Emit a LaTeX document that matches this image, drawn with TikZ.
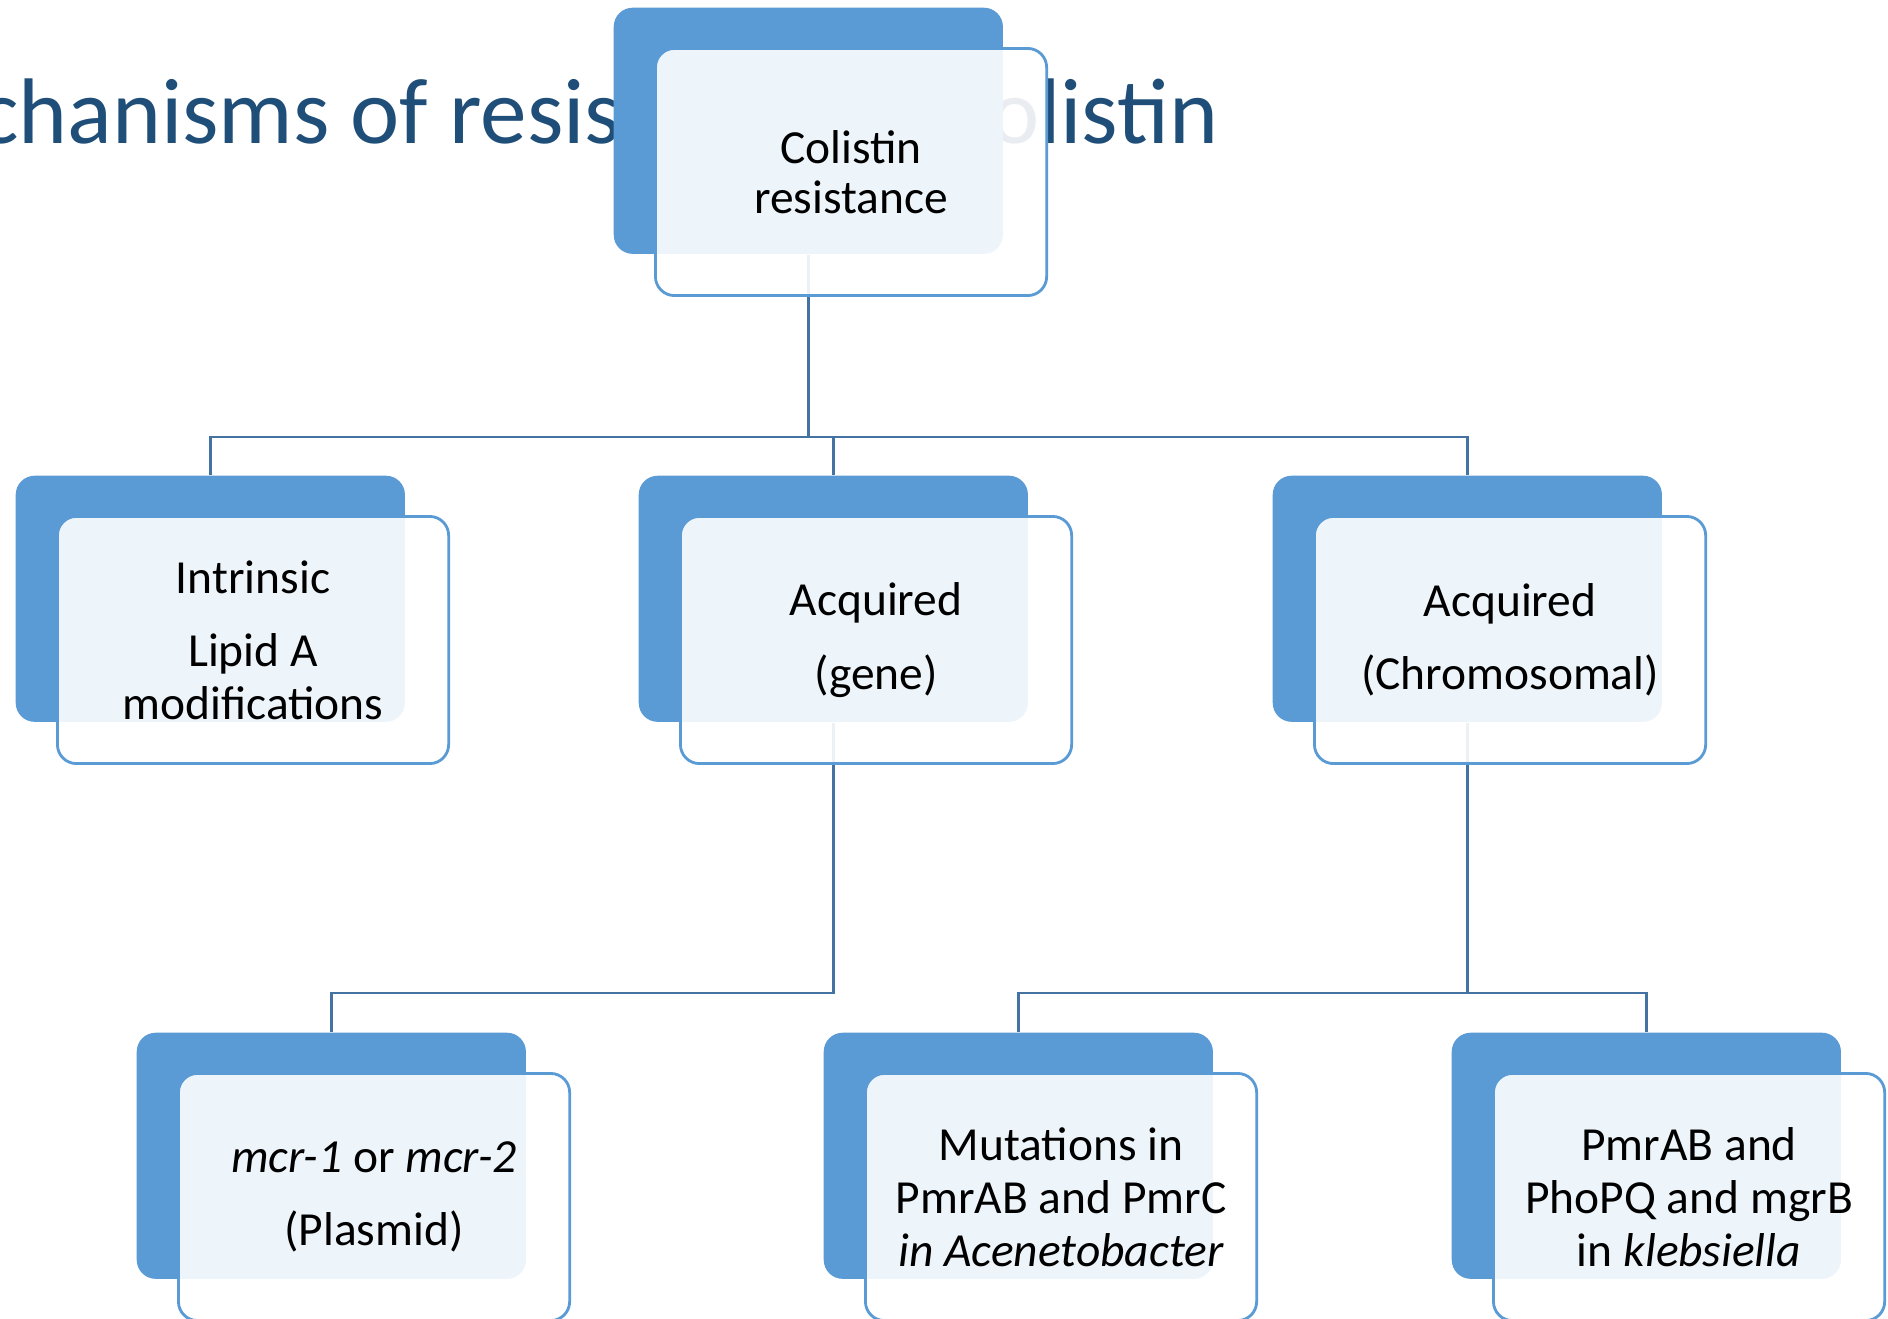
\documentclass[tikz,border=0pt]{standalone}
\usepackage{fontspec}
\setmainfont{Carlito}
\usepackage{tikz}
\usetikzlibrary{positioning, calc, backgrounds}
\definecolor{myblue}{RGB}{91,155,213}
\definecolor{mynavy}{RGB}{31,78,121}
\definecolor{myline}{RGB}{68,114,162}
\tikzset{
  backbox/.style={rectangle, fill=myblue, anchor=north west,
    minimum width=3.89cm, minimum height=2.46cm, inner sep=0pt,
    rounded corners=5.4pt},
  frontbox/.style={rectangle, draw=myblue, fill=white, fill opacity=0.9,
    text opacity=1, minimum width=3.91cm, minimum height=2.47cm,
    inner sep=0pt, align=center, rounded corners=5.4pt, line width=0.8pt,
    font=\fontsize{13.5}{15}\selectfont},
  headline/.style={inner sep=0pt, text=mynavy,
    font=\fontsize{26.5}{30}\selectfont},
  conn/.style={draw=myline, line width=0.7pt}
}

\begin{document}
\begin{tikzpicture}[x=0.01cm, y=-0.01cm]
  \useasboundingbox (0,0) rectangle (1888,1318);

  % Title (partly hidden by the top box)
  \node[headline, anchor=base east] (head) at (1219,143) {Mechanisms of resistance to colistin};

  % Back boxes
  \node[backbox] (root-b) at (613,7) {};
  \node[backbox] (intr-b) at (15,475) {};
  \node[backbox] (gene-b) at (638,475) {};
  \node[backbox] (chrom-b) at (1272,475) {};
  \node[backbox] (plas-b) at (136,1032) {};
  \node[backbox] (acin-b) at (823,1032) {};
  \node[backbox] (kleb-b) at (1451,1032) {};

  % Front boxes
  \node[frontbox, below right=0.40cm and 0.41cm of root-b.north west] (root) {Colistin\\[-0.8pt]resistance};
  \node[frontbox, below right=0.40cm and 0.41cm of intr-b.north west] (intr) {Intrinsic\\[5.9pt]Lipid A\\modifications};
  \node[frontbox, below right=0.40cm and 0.41cm of gene-b.north west] (gene) {Acquired\\[5.9pt](gene)};
  \node[frontbox, below right=0.40cm and 0.41cm of chrom-b.north west] (chrom) {Acquired\\[5.9pt](Chromosomal)};
  \node[frontbox, below right=0.40cm and 0.41cm of plas-b.north west] (plas) {\textit{mcr-1} or \textit{mcr-2}\\[5.9pt](Plasmid)};
  \node[frontbox, below right=0.40cm and 0.41cm of acin-b.north west] (acin) {Mutations in\\PmrAB and PmrC\\\textit{in Acenetobacter}};
  \node[frontbox, below right=0.40cm and 0.41cm of kleb-b.north west] (kleb) {PmrAB and\\PhoPQ and mgrB\\in \textit{klebsiella}};

  % Connections
  \coordinate (bus1) at (0,437);
  \coordinate (bus2) at (0,993);
  \begin{scope}[on background layer]
    \draw[conn] (root-b.south) -- (root-b.south |- bus1) -| (intr-b.north);
    \draw[conn] (root-b.south |- bus1) -| (gene-b.north);
    \draw[conn] (root-b.south |- bus1) -| (chrom-b.north);
    \draw[conn] (gene-b.south) -- (gene-b.south |- bus2) -| (plas-b.north);
    \draw[conn] (chrom-b.south) -- (chrom-b.south |- bus2) -| (acin-b.north);
    \draw[conn] (chrom-b.south |- bus2) -| (kleb-b.north);
  \end{scope}
\end{tikzpicture}
\end{document}
